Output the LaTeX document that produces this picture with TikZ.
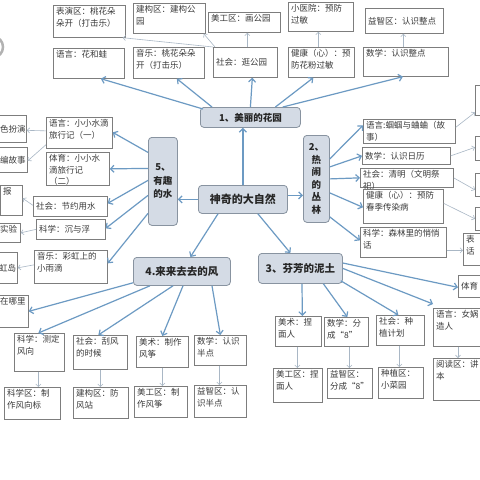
\documentclass[tikz,border=0pt]{standalone}
\usepackage{fontspec}
\setmainfont{Noto Sans CJK SC}
\usetikzlibrary{arrows.meta,calc}
\definecolor{arr}{HTML}{6C9AC3}
\definecolor{thinc}{HTML}{A9B7C5}
\definecolor{hubfill}{HTML}{D4DBE5}
\definecolor{hubdraw}{HTML}{8893A0}
\definecolor{boxdraw}{HTML}{7D7D7D}
\definecolor{txt}{HTML}{3A3A3A}
\tikzset{
 boxst/.style={draw=boxdraw, fill=white, line width=0.7pt, inner sep=0pt},
 lbl/.style={inner xsep=3pt, inner ysep=2.5pt, align=left, text=txt, font=\fontsize{8.5}{11.5}\selectfont},
 hubst/.style={draw=hubdraw, fill=hubfill, line width=0.8pt, rounded corners=3.5pt, inner sep=0pt, align=center, text=black!85},
 ma/.style={draw=arr, line width=1.2pt, -{Straight Barb[length=3.5pt,width=7pt]}},
 ta/.style={draw=thinc, line width=0.6pt, -{Straight Barb[length=2.5pt,width=5pt]}},
}
\newcommand\bxn[7]{\node[boxst, anchor=north west, minimum width={#4-(#2)}, minimum height={#5-(#3)}, label={[lbl, anchor=#6]#6:{#7}}] (#1) at (#2,#3) {};}
\newcommand\hubn[7]{\node[hubst, anchor=north west, minimum width={#4-(#2)}, minimum height={#5-(#3)}, font=#6] (#1) at (#2,#3) {#7};}
\newcommand\hf{\bfseries\fontsize{9.5}{12.6}\selectfont}
\newcommand\hg{\bfseries\fontsize{10.5}{13}\selectfont}
\begin{document}
\begin{tikzpicture}[x=1pt,y=-1pt]
\useasboundingbox (0,0) rectangle (480,480);
\clip (0,0) rectangle (480,480);
\fill[white] (0,0) rectangle (480,480);
\draw[gray!60, line width=2.5pt] (-6,47) ellipse [x radius=9, y radius=10];

% ---- hub 1 children
\bxn{g1}{53}{5}{125}{37}{north west}{表演区：桃花朵\\朵开（打击乐）}
\bxn{g2}{133}{3}{205}{33}{north west}{建构区：建构公\\园}
\bxn{g3}{208}{12}{280}{32}{north west}{美工区：画公园}
\bxn{g4}{288}{2}{353}{31}{north west}{小医院：预防\\过敏}
\bxn{g5}{365}{8}{443}{33}{west}{益智区：认识整点}
\bxn{g6}{53}{48}{124}{78}{north west}{语言：花和蛙}
\bxn{g7}{133}{47}{204}{78}{north west}{音乐：桃花朵朵\\开（打击乐）}
\bxn{g8}{213}{47}{277}{77}{west}{社会：逛公园}
\bxn{g9}{288}{47}{354}{77}{north west}{健康（心）：预\\防花粉过敏}
\bxn{g10}{363}{47}{448}{76}{north west}{数学：认识整点}

% ---- hub 2 children
\bxn{p1}{475}{85}{500}{115}{north west}{}
\bxn{p2}{475}{136}{500}{160}{north west}{}
\bxn{p3}{475}{173}{500}{196}{north west}{}
\bxn{p4}{475}{207}{500}{230}{north west}{}
\bxn{p5}{463}{233}{510}{265}{north west}{表\\话}
\bxn{p6}{458}{275}{510}{297}{west}{体育}
\bxn{r1}{363}{119}{455}{143}{north west}{语言:蝈蝈与蛐蛐（故\\事）}
\bxn{r2}{362}{147}{450}{164}{west}{数学：认识日历}
\bxn{r3}{360}{168}{453}{187}{north west}{社会：清明（文明祭\\祀）}
\bxn{r4}{363}{189}{443}{223}{north west}{健康（心）：预防\\春季传染病}
\bxn{r5}{360}{227}{446}{257}{north west}{科学：森林里的悄悄\\话}

% ---- hub 3 children
\bxn{s1}{433}{308}{495}{346}{north west}{语言：女娲\\造人}
\bxn{s2}{433}{358}{495}{400}{north west}{阅读区：讲\\本}
\bxn{s3}{275}{316}{321}{346}{north west}{美术：捏\\面人}
\bxn{s4}{324}{317}{368}{346}{north west}{数学：分\\成“8”}
\bxn{s5}{376}{315}{424}{345}{north west}{社会：种\\植计划}
\bxn{s6}{273}{368}{322}{402}{north west}{美工区：捏\\面人}
\bxn{s7}{327}{368}{372}{398}{north west}{益智区：\\分成“8”}
\bxn{s8}{378}{367}{423}{398}{north west}{种植区：\\小菜园}

% ---- hub 4 children
\bxn{w0}{-3}{295}{28}{327}{north west}{在哪里}
\bxn{w1}{14}{333}{64}{371}{north west}{科学：测定\\风向}
\bxn{w2}{73}{335}{127}{369}{north west}{社会：刮风\\的时候}
\bxn{w3}{136}{336}{188}{367}{north west}{美术：制作\\风筝}
\bxn{w4}{194}{335}{246}{365}{north west}{数学：认识\\半点}
\bxn{w5}{4}{387}{60}{419}{north west}{科学区：制\\作风向标}
\bxn{w6}{73}{387}{128}{418}{north west}{建构区：防\\风站}
\bxn{w7}{134}{386}{187}{417}{north west}{美工区：制\\作风筝}
\bxn{w8}{194}{385}{246}{417}{north west}{益智区：认\\识半点}

% ---- hub 5 children
\bxn{L1}{-3}{115}{26}{142}{west}{色扮演}
\bxn{L2}{-3}{147}{27}{172}{west}{编故事}
\bxn{L3}{0}{185}{22}{215}{north west}{报}
\bxn{L4}{-3}{223}{20}{242}{north west}{实验}
\bxn{L5}{-4}{252}{17}{283}{west}{虹岛}
\bxn{v1}{46}{117}{112}{148}{north west}{语言：小小水滴\\旅行记（一）}
\bxn{v2}{46}{152}{109}{185}{north west}{体育：小小水\\滴旅行记\\（二）}
\bxn{v3}{33}{196}{107}{216}{west}{社会：节约用水}
\bxn{v4}{36}{219}{105}{239}{west}{科学：沉与浮}
\bxn{v5}{34}{250}{107}{283}{north west}{音乐：彩虹上的\\小雨滴}

% ---- hubs
\hubn{c}{198}{185}{287}{213}{\bfseries\fontsize{11}{13}\selectfont}{神奇的大自然}
\hubn{h1}{200}{107}{300}{127}{\hf}{1、美丽的花园}
\hubn{h2}{303}{135}{329}{222}{\hf}{2、\\热\\闹\\的\\丛\\林}
\hubn{h3}{258}{253}{342}{283}{\hg}{3、芬芳的泥土}
\hubn{h4}{133}{257}{230}{285}{\hg}{4.来来去去的风}
\hubn{h5}{148}{137}{177}{225}{\bfseries\fontsize{9.5}{13.5}\selectfont}{5、\\有趣\\的水}

% ---- central connectors
\draw[ma] (c.north) -- ($(h1.south)+(-7.5,0)$);
\draw[ma] (c.west) -- ($(h5.east)+(0,18)$);
\draw[ma] ($(c.east)+(0,-4)$) -- ($(h2.west)+(0,16.5)$);
\draw[ma] ($(c.south west)+(20,0)$) -- ($(h4.north)+(8.5,0)$);
\draw[ma] ($(c.south)+(15,0)$) -- ($(h3.north)+(-10,0)$);

% ---- hub 1
\draw[ma] ($(h1.north west)+(3,2)$) -- ($(g6.south)+(12,0)$);
\draw[ma] ($(h1.north west)+(12,0)$) -- ($(g7.south)+(8,0)$);
\draw[ma] (h1.north) -- ($(g8.south)+(7,0)$);
\draw[ma] ($(h1.north)+(25,0)$) -- ($(g9.south)+(-8,0)$);
\draw[ma] ($(h1.north east)+(-18,0)$) -- ($(g10.south)+(-3,0)$);
\draw[ta] (g8.north west) -- ($(g1.south east)+(-3,0)$);
\draw[ta] ($(g8.north west)+(2,0)$) -- ($(g2.south east)+(-2,0)$);
\draw[ta] ($(g8.north)+(2,0)$) -- ($(g3.south)+(3,0)$);
\draw[ta] ($(g9.north)+(-3,0)$) -- ($(g4.south)+(-2.5,0)$);
\draw[ta] ($(g10.north)+(-2.5,0)$) -- ($(g5.south)+(-1,0)$);

% ---- hub 2
\draw[ma] ($(h2.east)+(0,-20)$) -- ($(r1.west)+(0,-6)$);
\draw[ma] ($(h2.east)+(0,-12)$) -- (r2.west);
\draw[ma] (h2.east) -- (r3.west);
\draw[ma] ($(h2.east)+(0,14)$) -- ($(r4.west)+(0,1)$);
\draw[ma] ($(h2.east)+(0,38)$) -- ($(r5.west)+(0,-2)$);
\draw[ta] ($(r1.east)+(0,-4)$) -- ($(p1.west)+(0,12)$);
\draw[ta] (r2.east) -- ($(p2.west)+(0,-1)$);
\draw[ta] (r3.east) -- ($(p3.west)+(0,5)$);
\draw[ta] ($(r4.east)+(0,-3)$) -- (p4.west);
\draw[ta] ($(r5.east)+(0,8)$) -- ($(p5.west)+(0,1)$);

% ---- hub 3
\draw[ma] ($(h3.north east)+(0,10)$) -- ($(p6.west)+(0,1)$);
\draw[ma] (h3.east) -- ($(s1.north west)+(0,-4)$);
\draw[ma] ($(h3.south west)+(44,0)$) -- ($(s3.north)+(4,0)$);
\draw[ma] ($(h3.south)+(23,0)$) -- ($(s4.north)+(1,0)$);
\draw[ma] ($(h3.south east)+(-2,-3)$) -- ($(s5.north)+(-2,0)$);
\draw[ta] ($(s3.south)+(-1,0)$) -- ($(s6.north)+(-0.5,0)$);
\draw[ta] ($(s4.south)+(3,0)$) -- ($(s7.north)+(-0.5,0)$);
\draw[ta] ($(s5.south)+(-1,0)$) -- ($(s8.north)+(-1.5,0)$);
\draw[ta] ($(s1.south west)+(25,0)$) -- ($(s2.north west)+(25,0)$);

% ---- hub 4
\draw[ma] ($(h4.south west)+(0,-3)$) -- (w0.east);
\draw[ma] ($(h4.south west)+(17,0)$) -- ($(w1.north)+(-1,0)$);
\draw[ma] ($(h4.south west)+(40,0)$) -- ($(w2.north)+(-2,0)$);
\draw[ma] ($(h4.south west)+(50,0)$) -- (w3.north);
\draw[ma] ($(h4.south west)+(79,0)$) -- (w4.north);
\draw[ta] ($(w1.south)+(-1,0)$) -- ($(w5.north)+(6,0)$);
\draw[ta] (w2.south) -- ($(w6.north)+(-0.5,0)$);
\draw[ta] (w3.south) -- ($(w7.north)+(1.5,0)$);
\draw[ta] ($(w4.south)+(-1,0)$) -- ($(w8.north)+(-1,0)$);

% ---- hub 5
\draw[ma] ($(h5.west)+(0,-29)$) -- ($(v1.east)+(0,-0.5)$);
\draw[ma] ($(h5.west)+(0,-13)$) -- (v2.east);
\draw[ma] ($(h5.west)+(0,-1)$) -- ($(v3.east)+(0,-3)$);
\draw[ma] ($(h5.west)+(0,14)$) -- ($(v4.east)+(0,-1)$);
\draw[ma] ($(h5.west)+(0,32)$) -- ($(v5.east)+(0,-3.5)$);
\draw[ta] ($(v1.west)+(0,-2)$) -- ($(L1.east)+(0,1.5)$);
\draw[ta] ($(v1.south west)+(0,-4)$) -- ($(L2.east)+(0,1)$);
\draw[ta] ($(v3.west)+(0,-1)$) -- ($(L3.east)+(0,-2)$);
\draw[ta] (v4.west) -- (L4.east);
\draw[ta] ($(v5.west)+(0,-2)$) -- (L5.east);
\end{tikzpicture}
\end{document}
